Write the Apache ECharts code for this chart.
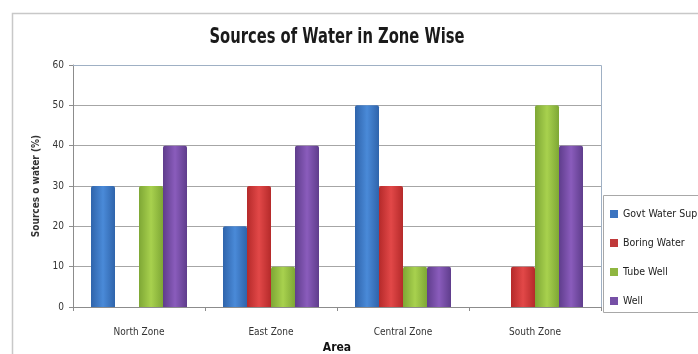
<!DOCTYPE html>
<html>
<head>
<meta charset="utf-8">
<script src="https://cdn.jsdelivr.net/npm/echarts@6/dist/echarts.min.js"></script>
<style>
  html, body { margin: 0; padding: 0; background: #ffffff; }
  #chart { width: 698px; height: 354px; }
</style>
</head>
<body>
<div id="chart"></div>
<script>
// Zones along the category axis
const zones = ['North Zone', 'East Zone', 'Central Zone', 'South Zone'];
// Share of each water source per zone (%)
const govtWaterSupply = [30, 20, 50, 0];
const boringWater = [0, 30, 30, 10];
const tubeWell = [30, 10, 10, 50];
const well = [40, 40, 10, 40];
// Value axis ticks
const yTicks = [0, 10, 20, 30, 40, 50, 60];

const FONT = '"Liberation Sans Narrow", "DejaVu Sans Condensed", sans-serif';

// Bevelled look: darker edges, lighter centre
function bevel(edge, mid) {
  return new echarts.graphic.LinearGradient(0, 0, 1, 0, [
    { offset: 0, color: edge },
    { offset: 0.5, color: mid },
    { offset: 1, color: edge }
  ]);
}

const seriesDefs = [
  { name: 'Govt Water Supply', data: govtWaterSupply, edge: '#2f64ab', mid: '#4a8ad8', legend: '#3b74c0' },
  { name: 'Boring Water', data: boringWater, edge: '#b52a2a', mid: '#e24848', legend: '#c0393a' },
  { name: 'Tube Well', data: tubeWell, edge: '#7ea735', mid: '#a8d14e', legend: '#8fb640' },
  { name: 'Well', data: well, edge: '#5f3d8c', mid: '#8a5cbc', legend: '#7650a6' }
];

const chart = echarts.init(document.getElementById('chart'), null, { renderer: 'canvas' });

chart.setOption({
  animation: false,
  backgroundColor: '#ffffff',
  textStyle: { fontFamily: FONT },
  graphic: [
    // chart title, drawn condensed
    {
      type: 'text',
      x: 337, y: 38,
      scaleX: 0.78,
      style: {
        text: 'Sources of Water in Zone Wise',
        fontFamily: FONT, fontSize: 21, fontWeight: 'bold',
        fill: '#1a1a1a', align: 'center', verticalAlign: 'middle'
      },
      silent: true
    },
    // outer chart frame (top and left edges visible)
    { type: 'rect', shape: { x: 12.5, y: 13.5, width: 720, height: 360 }, style: { fill: 'none', stroke: '#c8c8c8', lineWidth: 1.5 }, silent: true },
    // legend frame
    { type: 'rect', shape: { x: 603.5, y: 195.5, width: 120, height: 117 }, style: { fill: 'none', stroke: '#a8a8a8', lineWidth: 1 }, silent: true },
    // plot frame top and right edges
    { type: 'polyline', shape: { points: [[73, 65.5], [601.5, 65.5], [601.5, 307]] }, style: { fill: 'none', stroke: '#9fb0c4', lineWidth: 1 }, silent: true, z: 10 }
  ],
  legend: {
    orient: 'vertical',
    left: 605,
    top: 203,
    itemWidth: 8,
    itemHeight: 8,
    itemGap: 17,
    itemTextGap: 4,
    icon: 'rect',
    textStyle: { fontFamily: FONT, fontSize: 10.5, color: '#222', lineHeight: 12 },
    data: seriesDefs.map(s => ({ name: s.name, itemStyle: { color: s.legend } }))
  },
  grid: { left: 73, right: 97, top: 65, bottom: 47, outerBoundsMode: 'none', containLabel: false },
  xAxis: {
    type: 'category',
    data: zones,
    name: 'Area',
    nameLocation: 'middle',
    nameGap: 33,
    nameTextStyle: { fontFamily: FONT, fontSize: 12, fontWeight: 'bold', color: '#111' },
    axisLine: { lineStyle: { color: '#8c8c8c' } },
    axisTick: { show: true, length: 4, lineStyle: { color: '#8c8c8c' } },
    axisLabel: { fontFamily: FONT, fontSize: 10, color: '#333', margin: 20 }
  },
  yAxis: {
    type: 'value',
    min: yTicks[0],
    max: yTicks[yTicks.length - 1],
    interval: 10,
    name: 'Sources o water (%)',
    nameLocation: 'middle',
    nameGap: 26,
    nameTextStyle: { fontFamily: FONT, fontSize: 10, fontWeight: 'bold', color: '#333' },
    axisLine: { show: true, lineStyle: { color: '#8c8c8c' } },
    axisTick: { show: true, length: 4, lineStyle: { color: '#8c8c8c' } },
    axisLabel: { fontFamily: FONT, fontSize: 10, color: '#333', margin: 9 },
    splitLine: { lineStyle: { color: '#a6a6a6', width: 1 } }
  },
  series: seriesDefs.map(s => ({
    name: s.name,
    type: 'bar',
    data: s.data,
    barWidth: 24,
    barGap: '0%',
    itemStyle: { color: bevel(s.edge, s.mid), borderRadius: [2, 2, 0, 0] }
  }))
});
</script>
</body>
</html>
